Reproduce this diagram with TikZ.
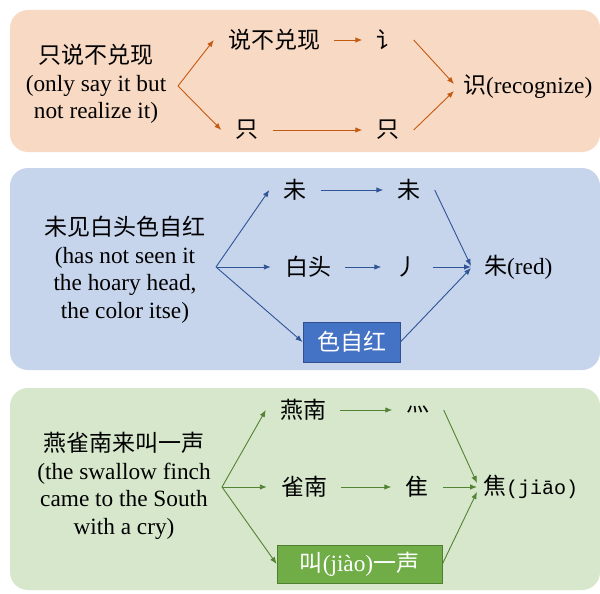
\documentclass[tikz,border=0pt]{standalone}
\usepackage{fontspec}
\setmainfont{Liberation Serif}
\newfontfamily\cjk{Noto Sans CJK SC}
\newfontfamily\monof{Liberation Mono}
\usetikzlibrary{arrows.meta}
\definecolor{peach}{HTML}{F8D9C3}
\definecolor{lblue}{HTML}{C6D4EC}
\definecolor{lgreen}{HTML}{D6E7CB}
\definecolor{aor}{HTML}{C55A11}
\definecolor{abl}{HTML}{2F5597}
\definecolor{agr}{HTML}{548235}
\definecolor{bfill}{HTML}{4472C4}
\definecolor{bdraw}{HTML}{2F528F}
\definecolor{gfill}{HTML}{70AD47}
\definecolor{gdraw}{HTML}{507E32}
\tikzset{
  panel/.style={rounded corners=18pt, draw=none},
  txt/.style={inner sep=1pt, font=\fontsize{23.3}{27.5}\selectfont, align=center},
  ch/.style={inner xsep=14pt, inner ysep=2pt, font=\fontsize{23}{26}\selectfont\cjk},
  res/.style={txt, anchor=west},
  arr/.style={-{Latex[length=7pt,width=5.5pt]}, line width=0.9pt},
  oarr/.style={arr, draw=aor},
  barr/.style={arr, draw=abl},
  garr/.style={arr, draw=agr},
  bbox/.style={ch, inner xsep=2pt, fill=bfill, draw=bdraw, line width=0.8pt, text=white, minimum width=97pt, minimum height=40pt},
  gbox/.style={txt, fill=gfill, draw=gdraw, line width=0.8pt, text=white, minimum width=165pt, minimum height=38pt},
}
\begin{document}
\begin{tikzpicture}[x=1pt,y=-1pt]
\useasboundingbox (0,0) rectangle (600,594);
\fill[white] (0,0) rectangle (600,594);
% panels
\fill[panel, peach] (10,10) rectangle (600,152);
\fill[panel, lblue] (10,168) rectangle (600,370);
\fill[panel, lgreen] (10,388) rectangle (600,590);

% ---- panel 1
\node[txt] (p1) at (96,84) {{\cjk\fontsize{23}{26}\selectfont 只说不兑现}\\(only say it but\\not realize it)};
\coordinate (p1s) at (178,86);
\node[ch] (a1) at (274,40) {说不兑现};
\node[ch] (a2) at (388,40) {讠};
\node[ch] (b1) at (247,130) {只};
\node[ch] (b2) at (388,130) {只};
\node[res, inner xsep=9pt] (r1) at (454,87) {{\cjk\fontsize{23}{26}\selectfont 识}(recognize)};
\draw[oarr] (p1s) -- (a1.west);
\draw[oarr] (p1s) -- (b1.west);
\draw[oarr] (a1.east) -- (a2.west);
\draw[oarr] (b1.east) -- (b2.west);
\draw[oarr] (a2.east) -- ([yshift=3pt]r1.west);
\draw[oarr] (b2.east) -- ([yshift=-4pt]r1.west);

% ---- panel 2
\node[txt] (p2) at (125,270) {{\cjk\fontsize{23}{26}\selectfont 未见白头色自红}\\(has not seen it\\the hoary head,\\the color itse)};
\coordinate (p2s) at (216,267);
\node[ch] (c1) at (295,190) {未};
\node[ch] (c2) at (409,190) {未};
\node[ch] (d1) at (308,267) {白头};
\node[ch] (d2) at (407,267) {丿};
\node[bbox] (e1) at (351.5,342) {色自红};
\node[res, inner xsep=13pt] (r2) at (471,267) {{\cjk\fontsize{23}{26}\selectfont 朱}(red)};
\draw[barr] (p2s) -- (c1.west);
\draw[barr] (p2s) -- (d1.west);
\draw[barr] (p2s) -- (e1.west);
\draw[barr] (c1.east) -- (c2.west);
\draw[barr] (d1.east) -- (d2.west);
\draw[barr] (d2.east) -- (r2.west);
\draw[barr] (c2.east) -- ([yshift=1pt]r2.west);
\draw[barr] (e1.east) -- ([yshift=-1pt]r2.west);

% ---- panel 3
\node[txt] (p3) at (124,486) {{\cjk\fontsize{23}{26}\selectfont 燕雀南来叫一声}\\(the swallow finch\\came to the South\\with a cry)};
\coordinate (p3s) at (222,487);
\node[ch] (f1) at (303,410) {燕南};
\node[ch] (f2) at (418,410) {灬};
\node[ch] (g1) at (304,487) {雀南};
\node[ch] (g2) at (417,487) {隹};
\node[gbox] (h1) at (359.5,564) {{\cjk\fontsize{23}{26}\selectfont 叫}(jiào){\cjk\fontsize{23}{26}\selectfont 一声}};
\node[ch, anchor=west, inner xsep=6pt] (r3) at (477,487) {焦{\monof\fontsize{20}{24}\selectfont(jiāo)}};
\draw[garr] (p3s) -- (f1.west);
\draw[garr] (p3s) -- (g1.west);
\draw[garr] (p3s) -- (h1.west);
\draw[garr] (f1.east) -- (f2.west);
\draw[garr] (g1.east) -- (g2.west);
\draw[garr] (g2.east) -- (r3.west);
\draw[garr] (f2.east) -- ([yshift=4pt]r3.west);
\draw[garr] (h1.east) -- ([yshift=-5pt]r3.west);
\end{tikzpicture}
\end{document}
